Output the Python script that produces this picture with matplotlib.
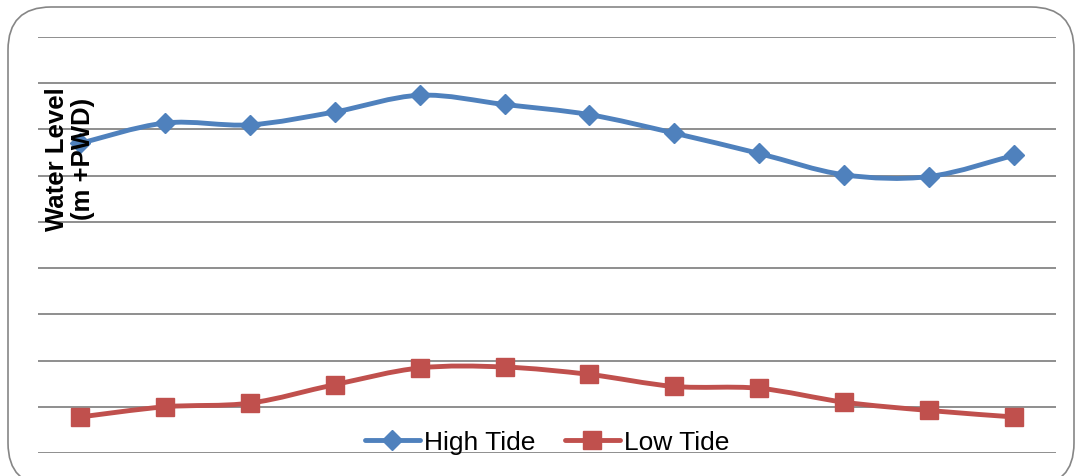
import matplotlib.pyplot as plt
from matplotlib.lines import Line2D
from matplotlib.path import Path
from matplotlib.patches import PathPatch, FancyBboxPatch

plt.rcParams['font.family'] = ['Liberation Sans', 'DejaVu Sans']

months = ['Jan', 'Feb', 'Mar', 'Apr', 'May', 'Jun',
          'Jul', 'Aug', 'Sep', 'Oct', 'Nov', 'Dec']
high_tide = [3.35, 3.57, 3.55, 3.69, 3.87, 3.77, 3.66, 3.46, 3.24, 3.01, 2.99, 3.22]
low_tide = [0.39, 0.50, 0.54, 0.74, 0.92, 0.93, 0.85, 0.72, 0.70, 0.55, 0.46, 0.39]
y_ticks = [0.0, 0.5, 1.0, 1.5, 2.0, 2.5, 3.0, 3.5, 4.0, 4.5]

BLUE = '#4F81BD'
RED = '#C0504D'
GRID = '#868686'


def smooth_path(xs, ys):
    # cubic Bezier through every point, control points from neighbours (Excel-style smoothing)
    pts = list(zip(xs, ys))
    verts = [pts[0]]
    codes = [Path.MOVETO]
    n = len(pts)
    for i in range(n - 1):
        p0 = pts[i - 1] if i > 0 else pts[i]
        p1 = pts[i]
        p2 = pts[i + 1]
        p3 = pts[i + 2] if i + 2 < n else pts[i + 1]
        c1 = (p1[0] + (p2[0] - p0[0]) / 6, p1[1] + (p2[1] - p0[1]) / 6)
        c2 = (p2[0] - (p3[0] - p1[0]) / 6, p2[1] - (p3[1] - p1[1]) / 6)
        verts += [c1, c2, p2]
        codes += [Path.CURVE4] * 3
    return Path(verts, codes)


fig = plt.figure(figsize=(10.76, 4.77), dpi=100)
# rounded chart-area border, running off the bottom of the image
fig.patches.append(FancyBboxPatch((8 / 1076, -10 / 477), 1066 / 1076, 479 / 477,
                                  boxstyle='round,pad=0,rounding_size=0.04',
                                  transform=fig.transFigure, facecolor='white',
                                  edgecolor=GRID, linewidth=1.2, zorder=-1,
                                  mutation_aspect=1076 / 477))

ax = fig.add_axes([38 / 1076, 1 - 454 / 477, 1018 / 1076, 416 / 477])
ax.set_facecolor('none')
x = list(range(len(months)))

for yv in y_ticks:
    ax.axhline(yv, color=GRID, linewidth=1.3, zorder=1)

for series, color in [(high_tide, BLUE), (low_tide, RED)]:
    ax.add_patch(PathPatch(smooth_path(x, series), facecolor='none', edgecolor=color,
                           linewidth=3.5, capstyle='round', joinstyle='round', zorder=3))
ax.plot(x, high_tide, linestyle='none', marker='D', markersize=10,
        color=BLUE, zorder=4)
ax.plot(x, low_tide, linestyle='none', marker='s', markersize=13,
        color=RED, zorder=4)

ax.set_xlim(-0.5, len(months) - 0.5)
ax.set_ylim(y_ticks[0], y_ticks[-1])
ax.set_xticks([])
ax.set_yticks([])
for s in ax.spines.values():
    s.set_visible(False)

handles = [Line2D([], [], color=BLUE, linewidth=3.5, marker='D', markersize=10,
                  solid_capstyle='round'),
           Line2D([], [], color=RED, linewidth=3.5, marker='s', markersize=13,
                  solid_capstyle='round')]
ax.legend(handles, ['High Tide', 'Low Tide'], loc='center',
          bbox_to_anchor=(0.5, (454 - 443) / 416), ncol=2, frameon=False,
          fontsize=19, handlelength=2.1, handletextpad=0.15, columnspacing=1.1,
          numpoints=1, borderpad=0)

fig.text(70 / 1076, 1 - 159 / 477, 'Water Level\n(m +PWD)', rotation=90,
         ha='center', va='center', multialignment='center',
         fontsize=18.5, fontweight='bold', linespacing=1.15, zorder=5)

fig.savefig('out.png', dpi=100)
